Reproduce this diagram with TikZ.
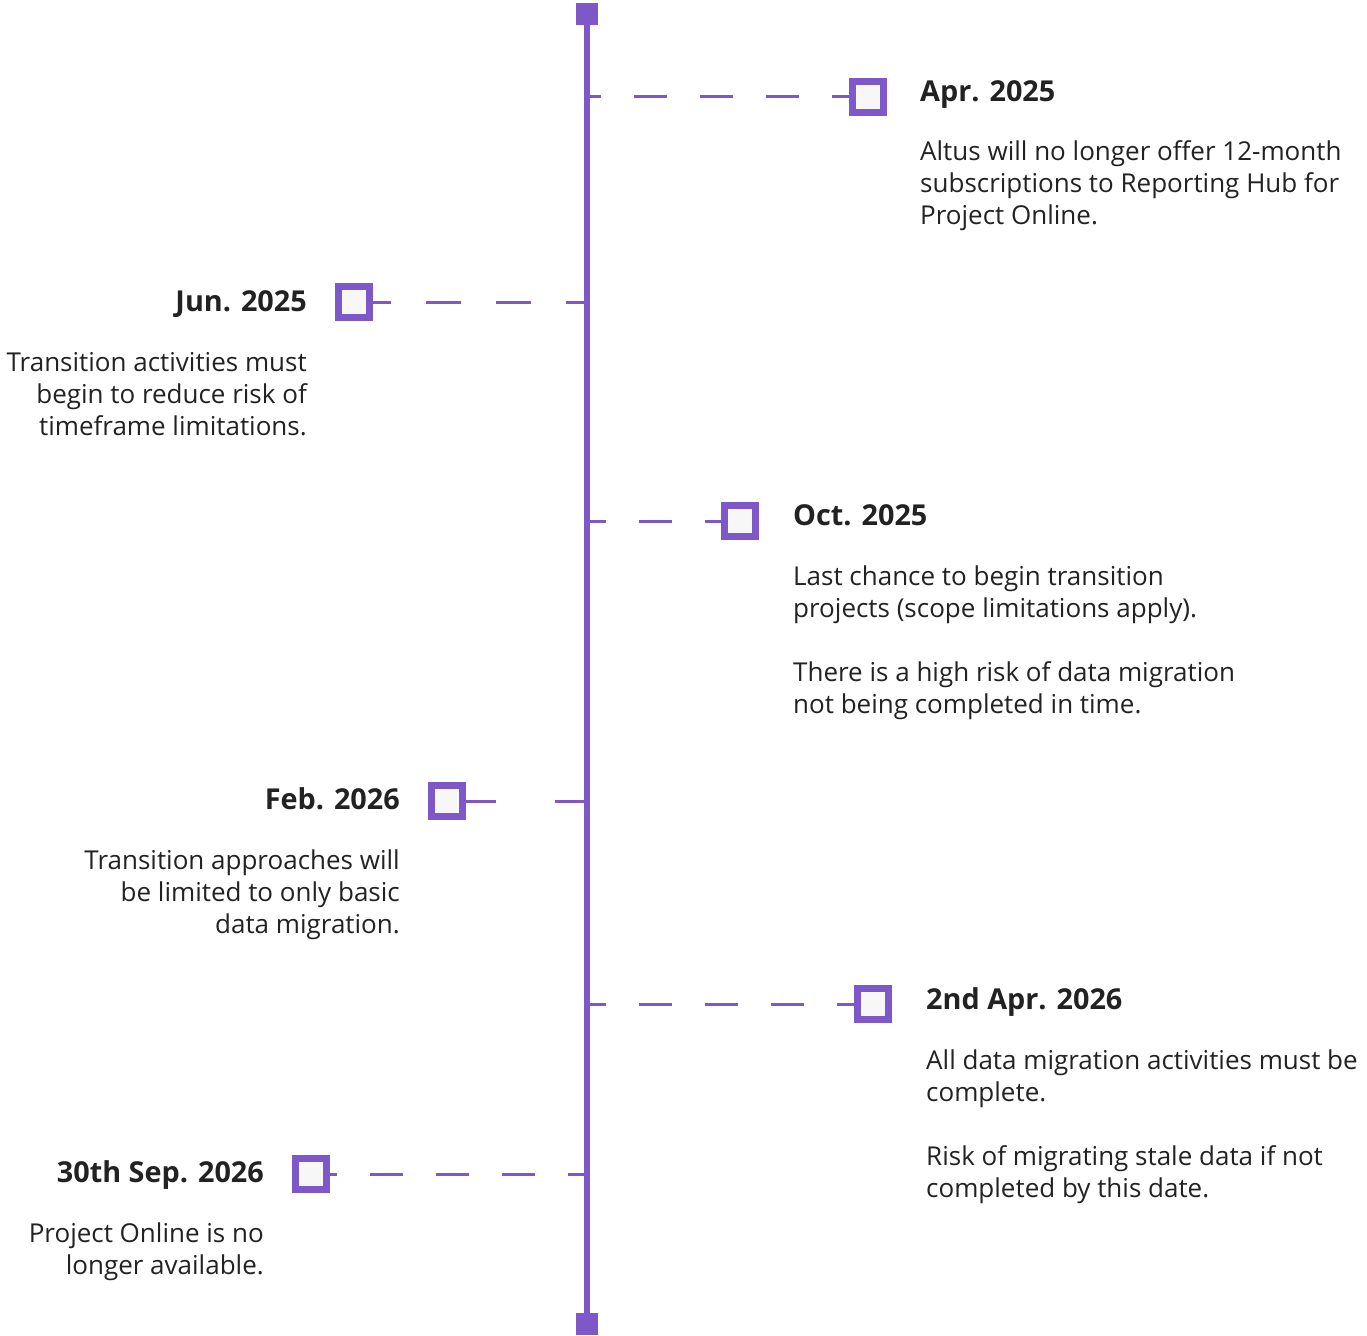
\documentclass[tikz,border=0pt]{standalone}
\usepackage{fontspec}
\setmainfont[Ligatures=NoCommon]{Open Sans}
\definecolor{tlpurple}{RGB}{126,87,200}
\definecolor{tltext}{RGB}{34,34,34}
\definecolor{tlfill}{RGB}{247,247,247}
\begin{document}
\begin{tikzpicture}[x=1pt,y=-1pt,
  trunk/.style={line width=6pt,draw=tlpurple},
  endcap/.style={fill=tlpurple,draw=none,minimum size=22pt,inner sep=0pt,shape=rectangle},
  marker/.style={shape=rectangle,draw=tlpurple,fill=tlfill,line width=7pt,minimum size=31pt,inner sep=0pt},
  branch/.style={draw=tlpurple,line width=3pt},
  ttl/.style={inner sep=0pt,text=tltext,font=\fontsize{28.8}{32}\selectfont\bfseries},
  bdy/.style={inner sep=0pt,text=tltext,font=\fontsize{26}{32}\selectfont},
]
\useasboundingbox (0,0) rectangle (1367,1335);
% trunk
\node[endcap] (top) at (587,14) {};
\node[endcap] (bot) at (587,1324) {};
% coordinates on trunk
\coordinate (tA) at (587,97);
\coordinate (tJ) at (587,302);
\coordinate (tO) at (587,521);
\coordinate (tF) at (587,801);
\coordinate (tA2) at (587,1004);
\coordinate (tS) at (587,1174);
% markers
\node[marker] (mA) at (868,97) {};
\node[marker] (mJ) at (354,302) {};
\node[marker] (mO) at (740,521) {};
\node[marker] (mF) at (447,801) {};
\node[marker] (mA2) at (873,1004) {};
\node[marker] (mS) at (311,1174) {};
% branches
\draw[branch,dash pattern=on 33pt off 33pt,dash phase=19pt] (tA) -- (mA.west);
\draw[branch,dash pattern=on 35pt off 35pt,dash phase=14pt] (tJ) -- (mJ.east);
\draw[branch,dash pattern=on 33pt off 33pt,dash phase=14pt] (tO) -- (mO.west);
\draw[branch,dash pattern=on 32pt off 59pt on 40pt off 0pt] (tF) -- (mF.east);
\draw[branch,dash pattern=on 33pt off 33pt,dash phase=14pt] (tA2) -- (mA2.west);
\draw[branch,dash pattern=on 33pt off 33pt,dash phase=14pt] (tS) -- (mS.east);
\draw[trunk] (top.center) -- (bot.center);
% Apr 2025
\node[ttl,anchor=base west] (hA) at (920,101.5) {Apr. 2025};
\node[bdy,anchor=base west] (bA1) at (920,160) {Altus will no longer offer 12-month};
\node[bdy,anchor=base west] (bA2) at (920,192) {subscriptions to Reporting Hub for};
\node[bdy,anchor=base west] (bA3) at (920,224) {Project Online.};
% Jun 2025
\node[ttl,anchor=base east] (hJ) at (307,311.5) {Jun. 2025};
\node[bdy,anchor=base east] (bJ1) at (307,371) {Transition activities must};
\node[bdy,anchor=base east] (bJ2) at (307,403) {begin to reduce risk of};
\node[bdy,anchor=base east] (bJ3) at (307,435) {timeframe limitations.};
% Oct 2025
\node[ttl,anchor=base west] (hO) at (793,525.5) {Oct. 2025};
\node[bdy,anchor=base west] (bO1) at (793,585) {Last chance to begin transition};
\node[bdy,anchor=base west] (bO2) at (793,617) {projects (scope limitations apply).};
\node[bdy,anchor=base west] (bO3) at (793,681) {There is a high risk of data migration};
\node[bdy,anchor=base west] (bO4) at (793,713) {not being completed in time.};
% Feb 2026
\node[ttl,anchor=base east] (hF) at (400,809.5) {Feb. 2026};
\node[bdy,anchor=base east] (bF1) at (400,869) {Transition approaches will};
\node[bdy,anchor=base east] (bF2) at (400,901) {be limited to only basic};
\node[bdy,anchor=base east] (bF3) at (400,933) {data migration.};
% 2nd Apr 2026
\node[ttl,anchor=base west] (hA2) at (926,1009.5) {2nd Apr. 2026};
\node[bdy,anchor=base west] (bB1) at (926,1069) {All data migration activities must be};
\node[bdy,anchor=base west] (bB2) at (926,1101) {complete.};
\node[bdy,anchor=base west] (bB3) at (926,1165) {Risk of migrating stale data if not};
\node[bdy,anchor=base west] (bB4) at (926,1197) {completed by this date.};
% 30th Sep 2026
\node[ttl,anchor=base east] (hS) at (264,1182.5) {30th Sep. 2026};
\node[bdy,anchor=base east] (bS1) at (264,1242) {Project Online is no};
\node[bdy,anchor=base east] (bS2) at (264,1274) {longer available.};
\end{tikzpicture}
\end{document}
